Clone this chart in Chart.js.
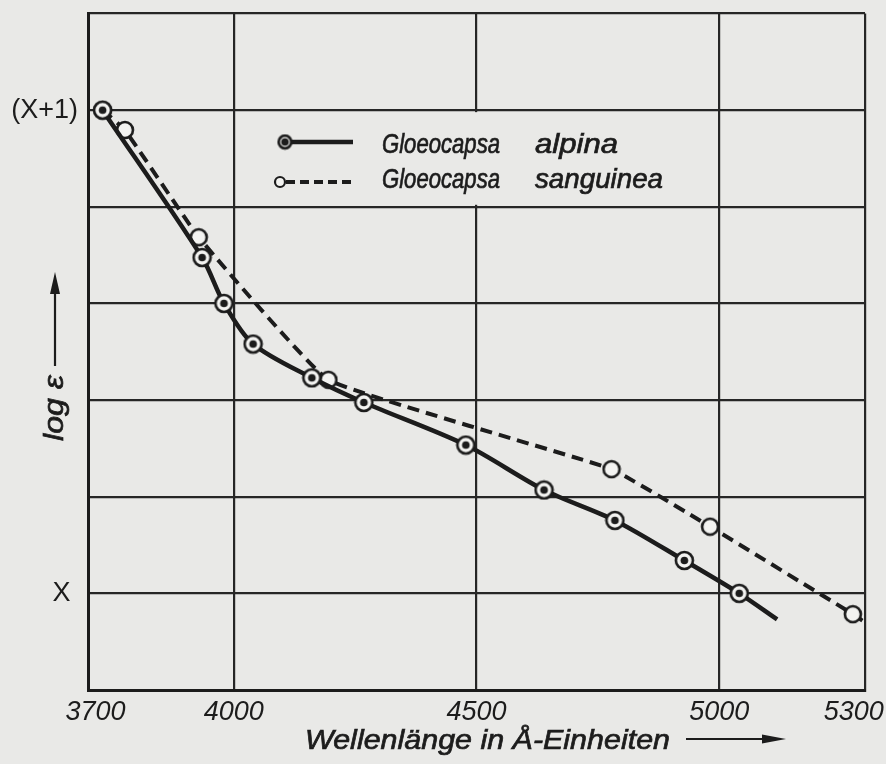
<!DOCTYPE html>
<html>
<head>
<meta charset="utf-8">
<script src="https://cdn.jsdelivr.net/npm/chart.js@4.4.1/dist/chart.umd.min.js"></script>
<style>
body{margin:0;background:#e9e9e7;}
#wrap{width:886px;height:764px;position:relative;}
</style>
</head>
<body>
<div id="wrap"><canvas id="mycanvas"></canvas></div>
<script>
// Wellenlänge in Å, log e relativ zu x (x = 0, x+1 = 1)
var alpinaWave = [3730, 3935, 3980, 4040, 4161, 4268, 4478, 4639, 4785, 4928, 5041, 5119];
var alpinaLog  = [1.00, 0.695, 0.60, 0.516, 0.446, 0.395, 0.307, 0.214, 0.151, 0.068, 0.0, -0.054];
var sanguineaWave = [3730, 3776, 3928, 4195, 4778, 4981, 5275, 5300];
var sanguineaLog  = [1.00, 0.959, 0.737, 0.442, 0.257, 0.138, -0.043, -0.06];
var xTicks = [3700, 4000, 4500, 5000, 5300];
var xLabels = {'3700': '\u00A0\u00A03700', '5300': '5300\u00A0\u00A0\u00A0'};
var yLabels = {'0': 'X\u00A0', '1': '(X+1)'};

var ink = '#1c1c1c';
var paper = '#e9e9e7';

function toPoints(xs, ys){
	var out = [];
	for (var i in xs){
		out.push({x: xs[i], y: ys[i]});
	}
	return out;
}

function ringMarker(r, filled, lw, dot){
	var c = document.createElement('canvas');
	var s = Math.ceil(r*2 + 4);
	c.width = s; c.height = s;
	var g = c.getContext('2d');
	g.beginPath();
	g.arc(s/2, s/2, r, 0, Math.PI*2);
	g.fillStyle = '#f3f3f1';
	g.fill();
	g.lineWidth = lw || 2.6;
	g.strokeStyle = ink;
	g.stroke();
	if (filled){
		g.beginPath();
		g.arc(s/2, s/2, r*(dot || 0.45), 0, Math.PI*2);
		g.fillStyle = ink;
		g.fill();
	}
	return c;
}

function fitText(ctx, text, x, y, w){
	var m = ctx.measureText(text).width;
	ctx.save();
	ctx.translate(x, y);
	ctx.scale(w/m, 1);
	ctx.lineWidth = 0.7;
	ctx.strokeStyle = ink;
	ctx.fillText(text, 0, 0);
	ctx.strokeText(text, 0, 0);
	ctx.restore();
}

function arrow(ctx, x1, y1, x2, y2, head, half){
	var a = Math.atan2(y2-y1, x2-x1);
	ctx.save();
	ctx.strokeStyle = ink; ctx.fillStyle = ink; ctx.lineWidth = 2.2;
	ctx.beginPath();
	ctx.moveTo(x1, y1);
	ctx.lineTo(x2 - Math.cos(a)*head, y2 - Math.sin(a)*head);
	ctx.stroke();
	ctx.translate(x2, y2);
	ctx.rotate(a);
	ctx.beginPath();
	ctx.moveTo(0, 0);
	ctx.lineTo(-head, -half);
	ctx.lineTo(-head, half);
	ctx.closePath();
	ctx.fill();
	ctx.restore();
}

var alpinaMarker = ringMarker(8.5, true);
var sanguineaMarker = ringMarker(8, false);

var decor = {
	id: 'decor',
	beforeDatasetsDraw: function(chart){
		// Legendenfeld: senkrechte Linie bei 4500 ist dort unterbrochen
		var ctx = chart.ctx, xs = chart.scales.x, ys = chart.scales.y;
		var px = xs.getPixelForValue(4500);
		ctx.save();
		ctx.fillStyle = paper;
		ctx.fillRect(px - 5, ys.getPixelForValue(1.0) + 2, 10, ys.getPixelForValue(0.8) - ys.getPixelForValue(1.0) - 4);
		ctx.restore();
	},
	afterDraw: function(chart){
		var ctx = chart.ctx;
		ctx.save();
		ctx.fillStyle = ink;
		ctx.textBaseline = 'alphabetic';
		ctx.textAlign = 'left';

		// Legende
		ctx.strokeStyle = ink;
		ctx.lineWidth = 4.5;
		ctx.beginPath(); ctx.moveTo(290, 142); ctx.lineTo(353, 142); ctx.stroke();
		ctx.drawImage(ringMarker(6.3, true, 2.8, 0.6), 285 - 8.5, 142 - 8.5);
		ctx.lineWidth = 4;
		ctx.setLineDash([9, 5]);
		ctx.beginPath(); ctx.moveTo(286, 182); ctx.lineTo(353, 182); ctx.stroke();
		ctx.setLineDash([]);
		ctx.drawImage(ringMarker(5, false, 2.2), 280 - 7, 182 - 7);

		ctx.font = 'italic 28px "Liberation Sans", Arial, sans-serif';
		fitText(ctx, 'Gloeocapsa', 382, 153, 118);
		fitText(ctx, 'alpina', 535, 153, 83);
		fitText(ctx, 'Gloeocapsa', 382, 188, 118);
		fitText(ctx, 'sanguinea', 535, 188, 128);

		// x-Achsentitel
		fitText(ctx, 'Wellenlänge in Å-Einheiten', 305, 749, 365);
		arrow(ctx, 686, 739, 786, 739, 24, 4.5);

		// y-Achsentitel
		ctx.save();
		ctx.translate(63, 441);
		ctx.rotate(-Math.PI/2);
		fitText(ctx, 'log ε', 0, 0, 66);
		ctx.restore();
		arrow(ctx, 55, 366, 55, 272, 22, 5);
		ctx.restore();
	}
};

var chartdata = {
	datasets: [
		{
			label: 'Gloeocapsa alpina',
			data: toPoints(alpinaWave, alpinaLog),
			borderColor: ink,
			borderWidth: 4.5,
			pointStyle: alpinaMarker,
			pointRadius: function(c){ return c.dataIndex === alpinaWave.length - 1 ? 0 : 9; },
			tension: 0.3,
			order: 1
		},
		{
			label: 'Gloeocapsa sanguinea',
			data: toPoints(sanguineaWave, sanguineaLog),
			borderColor: ink,
			borderWidth: 4,
			borderDash: [12, 7],
			pointStyle: sanguineaMarker,
			pointRadius: function(c){ return c.dataIndex === sanguineaWave.length - 1 ? 0 : 8; },
			tension: 0.1,
			order: 2
		}
	]
};

var cxt = document.getElementById('mycanvas');
var chart = new Chart(cxt, {
	type: 'line',
	data: chartdata,
	options: {
		responsive: true,
		maintainAspectRatio: false,
		animation: false,
		layout: {padding: {top: 10, right: 21, left: 0, bottom: 0}},
		plugins: {legend: {display: false}, tooltip: {enabled: false}},
		scales: {
			x: {
				type: 'linear',
				min: 3700,
				max: 5300,
				afterBuildTicks: function(s){ s.ticks = xTicks.map(function(v){ return {value: v}; }); },
				afterFit: function(s){ s.height = 74; s.paddingLeft = 0; s.paddingRight = 0; },
				grid: {color: '#262626', lineWidth: 2.2, drawTicks: false},
				border: {display: true, color: ink, width: 3},
				ticks: {
					color: ink,
					padding: 6,
					maxRotation: 0,
					font: {family: '"Liberation Sans", Arial, sans-serif', style: 'italic', size: 27},
					callback: function(v){ return xLabels[String(v)] || String(v); }
				}
			},
			y: {
				min: -0.2,
				max: 1.2,
				afterFit: function(s){ s.width = 88; s.paddingTop = 0; s.paddingBottom = 0; },
				grid: {color: '#262626', lineWidth: 2.2, drawTicks: false},
				border: {display: true, color: ink, width: 3},
				ticks: {
					stepSize: 0.2,
					color: ink,
					padding: 10,
					font: {family: '"Liberation Sans", Arial, sans-serif', size: 27},
					callback: function(v){
						var k = String(Math.round(v*10)/10);
						return yLabels[k] || '';
					}
				}
			}
		}
	},
	plugins: [decor]
});
</script>
</body>
</html>
